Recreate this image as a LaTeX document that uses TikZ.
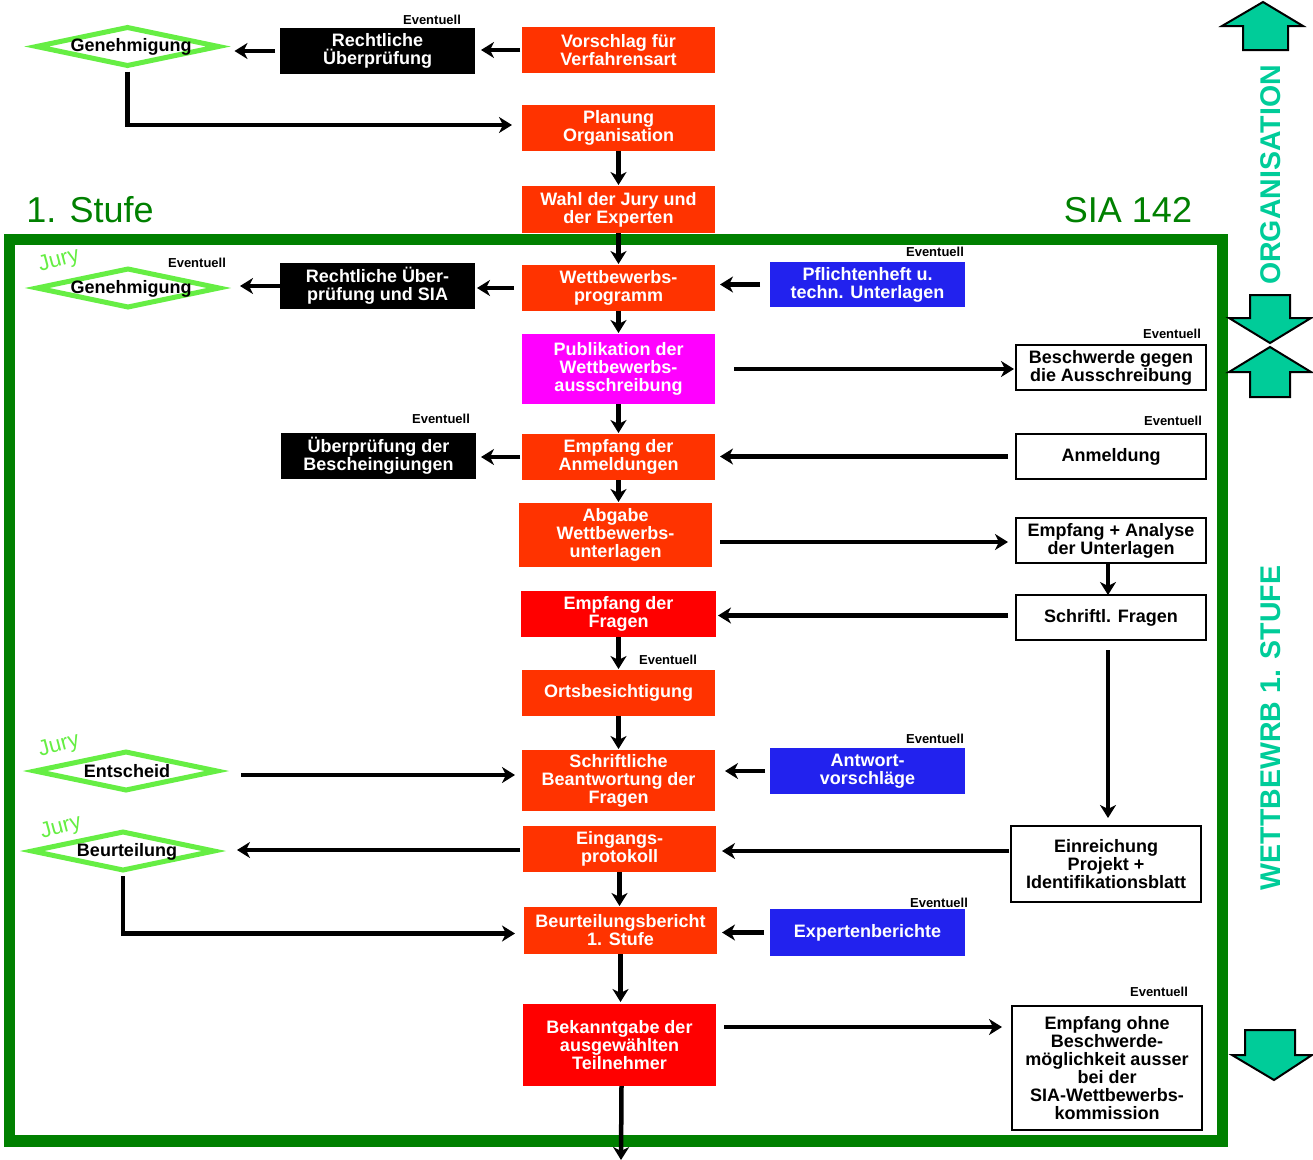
\documentclass[tikz,border=0pt]{standalone}
\usepackage{fontspec}
\setmainfont{Liberation Sans}
\usetikzlibrary{arrows.meta,shapes.geometric,calc}
\definecolor{orgred}{RGB}{255,51,0}
\definecolor{pured}{RGB}{255,0,0}
\definecolor{magent}{RGB}{255,0,255}
\definecolor{blueb}{RGB}{34,34,238}
\definecolor{darkgr}{RGB}{0,128,0}
\definecolor{lightgr}{RGB}{102,238,68}
\definecolor{teal2}{RGB}{0,204,153}
\begin{document}
\begin{tikzpicture}[x=1pt,y=-1pt,
  box/.style={rectangle, minimum width=193pt, minimum height=46pt, inner sep=0pt, outer sep=0pt,
    align=center, text=white, font=\fontsize{18}{18}\selectfont\bfseries},
  org/.style={box, fill=orgred},
  redb/.style={box, fill=pured},
  mag/.style={box, fill=magent},
  blk/.style={box, fill=black, minimum width=195pt},
  blu/.style={box, fill=blueb, minimum width=195pt},
  wht/.style={box, fill=white, draw=black, line width=2.5pt, text=black, minimum width=190pt},
  dia/.style={diamond, draw=lightgr, line width=5pt, fill=white, minimum width=182pt,
    minimum height=38pt, inner sep=0pt, outer sep=0pt},
  dtext/.style={inner sep=0pt, font=\fontsize{18}{18}\selectfont\bfseries},
  ev/.style={inner sep=0pt, font=\fontsize{13}{13}\selectfont\bfseries},
  jury/.style={inner sep=0pt, text=lightgr, rotate=15, font=\fontsize{22}{22}\selectfont},
  big/.style={inner sep=0pt, text=darkgr, font=\fontsize{36}{36}\selectfont},
  side/.style={inner sep=0pt, text=teal2, rotate=90, font=\fontsize{28.5}{28.5}\selectfont\bfseries},
  blockarr/.style={fill=teal2, draw=black, line width=2pt, line join=miter},
  arr/.style={line width=4.5pt, -{Stealth[length=13pt,width=16pt,inset=4pt]}}
]
\useasboundingbox (0,0) rectangle (1313,1159);

% green frame
\draw[darkgr, line width=11.5pt] (9.5,239.5) rectangle (1222.5,1141);

% titles
\node[big] (stufe) at (90,210) {1. Stufe};
\node[big] (sia) at (1128,210) {SIA 142};

% block arrows right
\draw[blockarr] (1263,2) -- (1303,26) -- (1288,26) -- (1288,50) -- (1243,50) -- (1243,26) -- (1222,26) -- cycle;
\draw[blockarr] (1250,295) -- (1290,295) -- (1290,318) -- (1311,318) -- (1270,343) -- (1229,318) -- (1250,318) -- cycle;
\draw[blockarr] (1270,347) -- (1311,372) -- (1290,372) -- (1290,397) -- (1250,397) -- (1250,372) -- (1229,372) -- cycle;
\draw[blockarr] (1245,1030) -- (1295,1030) -- (1295,1055) -- (1312,1055) -- (1274,1080) -- (1232,1055) -- (1245,1055) -- cycle;
\node[side] (orga) at (1271,175) {ORGANISATION};
\node[side] (wett1) at (1271,728) {WETTBEWRB 1. STUFE};

% top part
\node[dia] (g1) at (127.5,46.5) {};
\node[dtext] (g1t) at (131,47) {Genehmigung};
\node[ev] (ev1) at (432,20) {Eventuell};
\node[blk] (r1) at (377.5,51) {Rechtliche\\Überprüfung};
\node[org] (vor) at (618.5,50) {Vorschlag für\\Verfahrensart};
\node[org] (plan) at (618.5,128) {Planung\\Organisation};
\node[org, minimum height=47pt] (wahl) at (618.5,209.5) {Wahl der Jury und\\der Experten};

% stage 1
\node[jury] (j1) at (59,261) {Jury};
\node[ev] (ev2) at (197,263) {Eventuell};
\node[dia] (g2) at (128,288) {};
\node[dtext] (g2t) at (131,289) {Genehmigung};
\node[blk] (r2) at (377.5,286) {Rechtliche Über-\\prüfung und SIA};
\node[org] (wett) at (618.5,288) {Wettbewerbs-\\programm};
\node[ev] (ev3) at (935,252) {Eventuell};
\node[blu, minimum height=45pt] (pfl) at (867.5,284.5) {Pflichtenheft u.\\techn. Unterlagen};

\node[mag, minimum height=70pt] (pub) at (618.5,369) {Publikation der\\Wettbewerbs-\\ausschreibung};
\node[ev] (ev4) at (1172,334) {Eventuell};
\node[wht, minimum height=45pt] (besch) at (1111,367.5) {Beschwerde gegen\\die Ausschreibung};

\node[org] (empfA) at (618.5,457) {Empfang der\\Anmeldungen};
\node[ev] (ev5) at (441,419) {Eventuell};
\node[blk] (uebr) at (378.5,456) {Überprüfung der\\Bescheingiungen};
\node[ev] (ev6) at (1173,421) {Eventuell};
\node[wht, minimum height=45pt] (anm) at (1111,456.5) {Anmeldung};

\node[org, minimum height=64pt] (abg) at (615.5,535) {Abgabe\\Wettbewerbs-\\unterlagen};
\node[wht, minimum height=45pt] (empfAn) at (1111,540.5) {Empfang + Analyse\\der Unterlagen};
\node[wht, minimum height=45pt] (schrF) at (1111,617.5) {Schriftl. Fragen};
\node[redb, minimum width=195pt] (empfF) at (618.5,614) {Empfang der\\Fragen};

\node[ev] (ev7) at (668,660) {Eventuell};
\node[org] (orts) at (618.5,693) {Ortsbesichtigung};
\node[org, minimum height=61pt] (schrB) at (618.5,780.5) {Schriftliche\\Beantwortung der\\Fragen};
\node[jury] (j2) at (59,746) {Jury};
\node[dia] (g3) at (126,771) {};
\node[dtext] (g3t) at (127,771) {Entscheid};
\node[ev] (ev8) at (935,739) {Eventuell};
\node[blu] (antw) at (867.5,771) {Antwort-\\vorschläge};

\node[wht, minimum height=76pt] (einr) at (1106,864) {Einreichung\\Projekt +\\Identifikationsblatt};
\node[org] (eing) at (619.5,849) {Eingangs-\\protokoll};
\node[jury] (j3) at (61,828) {Jury};
\node[dia] (g4) at (123,851) {};
\node[dtext] (g4t) at (127,852) {Beurteilung};

\node[org, minimum height=47pt] (beurB) at (620.5,930.5) {Beurteilungsbericht\\1. Stufe};
\node[ev] (ev9) at (939,903) {Eventuell};
\node[blu, minimum height=47pt] (exp) at (867.5,932.5) {Expertenberichte};

\node[redb, minimum height=82pt] (bek) at (619.5,1045) {Bekanntgabe der\\ausgewählten\\Teilnehmer};
\node[ev] (ev10) at (1159,992) {Eventuell};
\node[wht, minimum height=124pt] (empfO) at (1107,1068) {Empfang ohne\\Beschwerde-\\möglichkeit ausser\\bei der\\SIA-Wettbewerbs-\\kommission};
\coordinate (bot) at (621,1160);

% helper coordinates for connector end points
\coordinate (cplan) at ($(plan.west)+(0,-3)$);
\coordinate (cabg) at ($(abg.east)+(0,7)$);
\coordinate (canA) at ($(empfAn.south)+(-3,0)$);
\coordinate (cschr) at ($(schrF.west)+(0,-2)$);
\coordinate (cschS) at ($(schrF.south)+(-3,0)$);
\coordinate (cg3) at ($(g3.east)+(0,4)$);
\coordinate (ceinr) at ($(einr.west)+(0,-13)$);
\coordinate (ceing) at ($(eing.west)+(0,1)$);
\coordinate (cbeur) at ($(beurB.west)+(0,3)$);
\coordinate (cbek) at ($(bek.east)+(0,-18)$);
\coordinate (cbekS) at ($(bek.south)+(2,0)$);

% connectors
\draw[arr, shorten <=2pt, shorten >=6pt] (vor.west) -- (vor.west -| r1.east);
\draw[arr, shorten <=5pt, shorten >=16pt] (r1.west) -- (r1.west -| g1.east);
\draw[arr, shorten <=6pt, shorten >=10pt] (g1.south) |- (cplan);
\draw[arr, shorten >=1pt] (plan.south) -- (wahl.north);
\draw[arr, shorten >=1pt] (wahl.south) -- (wett.north);
\draw[arr, shorten >=21pt] (r2.west) -- (r2.west -| g2.east);
\draw[arr, shorten <=8pt, shorten >=2pt] (wett.west) -- (wett.west -| r2.east);
\draw[arr, shorten <=10pt, shorten >=5pt] (pfl.west) -- (pfl.west -| wett.east);
\draw[arr, shorten >=1pt] (wett.south) -- (pub.north);
\draw[arr, shorten <=19pt, shorten >=2pt] (pub.east) -- (pub.east -| besch.west);
\draw[arr, shorten >=1pt] (pub.south) -- (empfA.north);
\draw[arr, shorten <=2pt, shorten >=5pt] (empfA.west) -- (empfA.west -| uebr.east);
\draw[arr, shorten <=8pt, shorten >=5pt] (anm.west) -- (anm.west -| empfA.east);
\draw[arr, shorten >=1pt] (empfA.south) -- (empfA.south |- abg.north);
\draw[arr, shorten <=8pt, shorten >=8pt] (cabg) -- (cabg -| empfAn.west);
\draw[arr] (canA) -- (canA |- schrF.north);
\draw[arr, shorten <=8pt, shorten >=2pt] (cschr) -- (cschr -| empfF.east);
\draw[arr, shorten >=1pt] (empfF.south) -- (orts.north);
\draw[arr, shorten >=1pt] (orts.south) -- (schrB.north);
\draw[arr, shorten <=24pt, shorten >=7pt] (cg3) -- (cg3 -| schrB.west);
\draw[arr, shorten <=5pt, shorten >=10pt] (antw.west) -- (antw.west -| schrB.east);
\draw[arr, shorten <=10pt, shorten >=8pt] (cschS) -- (cschS |- einr.north);
\draw[arr, shorten <=2pt, shorten >=6pt] (ceinr) -- (ceinr -| eing.east);
\draw[arr, shorten <=3pt, shorten >=23pt] (ceing) -- (ceing -| g4.east);
\draw[arr, shorten <=6pt, shorten >=9pt] (g4.south) |- (cbeur);
\draw[arr, shorten >=1pt] (eing.south) -- (eing.south |- beurB.north);
\draw[arr, shorten <=6pt, shorten >=5pt] (exp.west) -- (exp.west -| beurB.east);
\draw[arr, shorten >=2pt] (beurB.south) -- (beurB.south |- bek.north);
\draw[arr, shorten <=8pt, shorten >=10pt] (cbek) -- (cbek -| empfO.west);
\draw[arr] (cbekS) -- (bot);
\end{tikzpicture}
\end{document}
